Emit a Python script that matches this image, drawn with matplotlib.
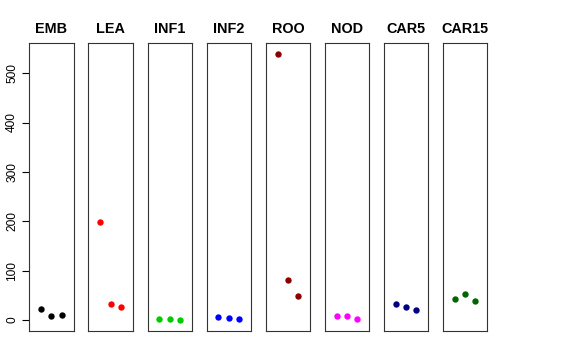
import matplotlib
matplotlib.use("Agg")
import matplotlib.pyplot as plt

plt.rcParams['font.family'] = ['Liberation Sans', 'DejaVu Sans']

tissues = ["EMB", "LEA", "INF1", "INF2", "ROO", "NOD", "CAR5", "CAR15"]
reps = [1, 2, 3]
emb = [22, 8, 10]
lea = [198, 32, 26]
inf1 = [2, 2, 1]
inf2 = [6, 4, 2]
roo = [538, 81, 49]
nod = [8, 8, 2]
car5 = [33, 26, 20]
car15 = [42, 52, 39]
values = [emb, lea, inf1, inf2, roo, nod, car5, car15]
colors = ["black", "red", "#00CD00", "blue", "#8B0000", "magenta", "#000080", "#006400"]
yticks = [0, 100, 200, 300, 400, 500]

W, H = 576, 360
fig = plt.figure(figsize=(W / 100, H / 100), dpi=100)

left0 = 29.3
step = 59.1
width = 44.3
top = 43
bottom = 331

for i, name in enumerate(tissues):
    ax = fig.add_axes([(left0 + i * step) / W, (H - bottom) / H,
                       width / W, (bottom - top) / H])
    ax.scatter(reps, values[i], color=colors[i], s=21, linewidths=0, zorder=3)
    ax.set_xlim(-0.16, 4.16)
    ax.set_ylim(-22, 561)
    ax.set_title(name, fontsize=10.4, fontweight="bold", pad=7)
    ax.set_xticks([])
    for sp in ax.spines.values():
        sp.set_linewidth(0.8)
        sp.set_color("#333333")
    if i == 0:
        ax.set_yticks(yticks)
        ax.set_yticklabels([str(t) for t in yticks], rotation=90, va="center",
                           fontsize=8.6)
        ax.tick_params(axis="y", length=5, width=0.8, pad=3)
    else:
        ax.set_yticks([])

fig.savefig("out.png", dpi=100)
